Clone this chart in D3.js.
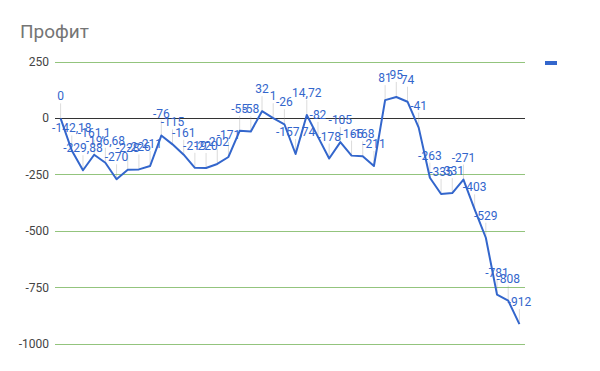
<!DOCTYPE html>
<html>
<head>
<meta charset="utf-8">
<script src="https://cdn.jsdelivr.net/npm/d3@7"></script>
<style>
  body { margin: 0; background: #fff; }
  text { font-family: Roboto, sans-serif; }
</style>
</head>
<body>
<script>
// Значения профита по точкам
const profit = [0, -142.18, -229.88, -161.1, -196.68, -270, -228, -226, -211, -76,
  -115, -161, -219, -220, -202, -171, -55, -58, 32, 1,
  -26, -157.74, 14.72, -82, -178, -105, -165, -168, -211, 81,
  95, 74, -41, -263, -335, -331, -271, -403, -529, -781,
  -808, -912];

const yTicks = [250, 0, -250, -500, -750, -1000];
const title = 'Профит';

const w = 600, h = 371;

var svg = d3.select('body')
  .append('svg')
  .attr('width', w)
  .attr('height', h);

const x = d3.scalePoint()
  .domain(d3.range(profit.length))
  .range([55, 525])
  .padding(0.5);

const y = d3.scaleLinear()
  .domain([-1000, 250])
  .range([344, 62]);

// Título
svg.append('text')
  .attr('x', 20)
  .attr('y', 38)
  .attr('font-size', '19px')
  .attr('fill', '#757575')
  .text(title);

// Líneas de la cuadrícula
svg.selectAll('.grid')
  .data(yTicks)
  .enter()
  .append('line')
  .attr('x1', 55)
  .attr('x2', 525)
  .attr('y1', (d) => y(d))
  .attr('y2', (d) => y(d))
  .attr('stroke', (d) => d === 0 ? '#333' : '#93c47d')
  .attr('stroke-width', 1)
  .attr('shape-rendering', 'crispEdges');

svg.selectAll('.ylabel')
  .data(yTicks)
  .enter()
  .append('text')
  .attr('x', 49)
  .attr('y', (d) => y(d) + 4)
  .attr('text-anchor', 'end')
  .attr('font-size', '12px')
  .attr('fill', '#444')
  .text((d) => d);

// Tallos de las anotaciones
svg.selectAll('.stem')
  .data(profit)
  .enter()
  .append('line')
  .attr('x1', (d, i) => x(i))
  .attr('x2', (d, i) => x(i))
  .attr('y1', (d) => y(d))
  .attr('y2', (d) => y(d) - 15)
  .attr('stroke', '#999')
  .attr('stroke-opacity', 0.35)
  .attr('stroke-width', 1);

const line = d3.line()
  .x((d, i) => x(i))
  .y((d) => y(d));

svg.append('path')
  .datum(profit)
  .attr('d', line)
  .attr('fill', 'none')
  .attr('stroke', '#3366cc')
  .attr('stroke-width', 2)
  .attr('stroke-linejoin', 'round');

// Anotaciones
svg.selectAll('.ann')
  .data(profit)
  .enter()
  .append('text')
  .attr('x', (d, i) => x(i))
  .attr('y', (d) => y(d) - 18)
  .attr('text-anchor', 'middle')
  .attr('font-size', '12px')
  .attr('fill', '#3366cc')
  .attr('stroke', '#fff')
  .attr('stroke-width', 0)
  .text((d) => String(d).replace('.', ','));

// Leyenda
svg.append('rect')
  .attr('x', 545)
  .attr('y', 61)
  .attr('width', 12)
  .attr('height', 4)
  .attr('fill', '#3366cc');
</script>
</body>
</html>
